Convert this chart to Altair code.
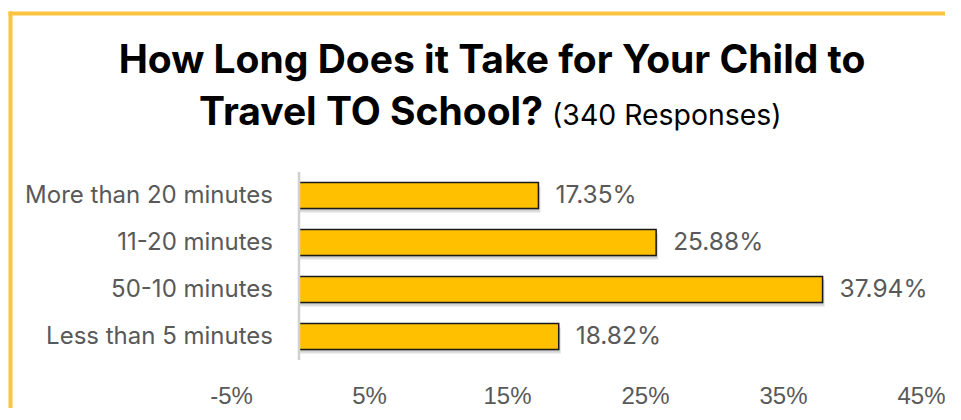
import altair as alt
import pandas as pd

categories = ["More than 20 minutes", "11-20 minutes", "50-10 minutes", "Less than 5 minutes"]
values = [17.35, 25.88, 37.94, 18.82]
tick_values = [-5, 5, 15, 25, 35, 45]
title_line1 = "How Long Does it Take for Your Child to"
title_line2_bold = "Travel TO School?"
title_line2_normal = "(340 Responses)"

df = pd.DataFrame({"category": categories, "value": values})
one = pd.DataFrame({"k": [0]})

xscale = alt.Scale(domain=[-5, 45], nice=False, zero=False)
yscale = alt.Scale(domain=categories, paddingInner=0.447, paddingOuter=0.2235)

base = alt.Chart(df).encode(
    y=alt.Y("category:N", sort=categories, scale=yscale, axis=None),
)

shadow1 = base.mark_bar(color="#7f7f7f", opacity=0.25, xOffset=2, yOffset=4).encode(
    x=alt.X("value:Q", scale=xscale,
            axis=alt.Axis(values=tick_values, labelExpr="datum.value + '%'",
                          grid=False, ticks=False, domain=False, labelPadding=24,
                          labelFlush=False, labelOffset=1,
                          labelFont="Liberation Sans", labelFontSize=24, labelColor="#595959",
                          title=None)),
    x2=alt.datum(0),
)
shadow2 = base.mark_bar(color="#7f7f7f", opacity=0.25, xOffset=1, yOffset=2).encode(
    x=alt.X("value:Q", scale=xscale), x2=alt.datum(0)
)

bars = base.mark_bar(color="#FFC000", stroke="#1a1a1a", strokeWidth=1.5).encode(
    x=alt.X("value:Q", scale=xscale), x2=alt.datum(0)
)

zero = alt.Chart(one).mark_rule(color="#d0d0d0", strokeWidth=2.5).encode(
    x=alt.X("k:Q", scale=xscale)
)

value_labels = base.mark_text(align="left", baseline="middle", dx=17, font="Inter",
                              fontSize=24.5, color="#595959").transform_calculate(
    lab="format(datum.value, '.2f') + '%'"
).encode(x=alt.X("value:Q", scale=xscale), text="lab:N")

cat_labels = base.mark_text(align="right", baseline="middle", dx=-26, font="Inter",
                            fontSize=24, color="#595959").transform_calculate(
    zero="0"
).encode(x=alt.X("zero:Q", scale=xscale), text="category:N")

t1 = alt.Chart(one).mark_text(text=title_line1, font="Inter", fontWeight="bold", fontSize=39,
                              align="center", baseline="alphabetic", color="black").encode(
    x=alt.value(262), y=alt.value(-99))
t2 = alt.Chart(one).mark_text(text=title_line2_bold, font="Inter", fontWeight="bold", fontSize=39,
                              align="right", baseline="alphabetic", color="black").encode(
    x=alt.value(313), y=alt.value(-47))
t3 = alt.Chart(one).mark_text(text=title_line2_normal, font="Inter", fontWeight="normal", fontSize=28.4,
                              align="left", baseline="alphabetic", color="black").encode(
    x=alt.value(322), y=alt.value(-47))

frame_top = alt.Chart(one).mark_rect(color="#FAC440").encode(
    x=alt.value(-221.5), x2=alt.value(715), y=alt.value(-160.5), y2=alt.value(-156.5))
frame_left = alt.Chart(one).mark_rect(color="#FAC440").encode(
    x=alt.value(-221.5), x2=alt.value(-217.5), y=alt.value(-160.5), y2=alt.value(240))

chart = alt.layer(frame_top, frame_left, shadow1, shadow2, bars, zero, value_labels, cat_labels,
                  t1, t2, t3).properties(
    width=690, height=188,
    background="white",
    autosize=alt.AutoSizeParams(type="none"),
    padding={"left": 222, "top": 164, "right": 25, "bottom": 48},
).configure_view(strokeWidth=0, stroke=None)

chart.save("out.html", embed_options={"renderer": "svg", "actions": False})
